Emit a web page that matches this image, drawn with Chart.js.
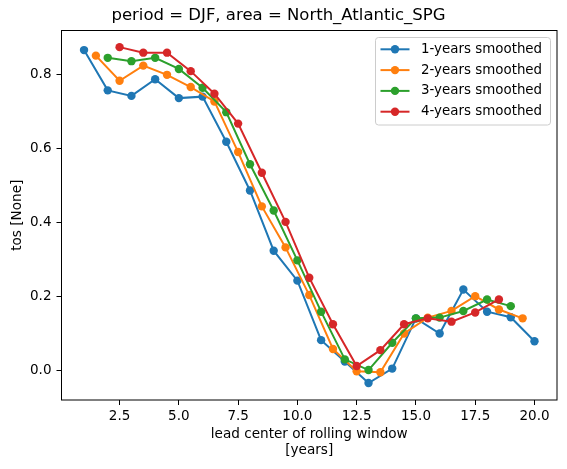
<!DOCTYPE html>
<html>
<head>
<meta charset="utf-8">
<script src="https://cdn.jsdelivr.net/npm/chart.js@4/dist/chart.umd.min.js"></script>
<style>
    html, body { margin: 0; padding: 0; background: #fff; }
    #chart { display: block; }
</style>
</head>
<body>
<canvas id="chart" width="567" height="469"></canvas>
<script>
// Data
const x1 = [1, 2, 3, 4, 5, 6, 7, 8, 9, 10, 11, 12, 13, 14, 15, 16, 17, 18, 19, 20];
const y1 = [0.866, 0.757, 0.742, 0.787, 0.736, 0.740, 0.618, 0.486, 0.323, 0.242,
            0.081, 0.023, -0.035, 0.004, 0.140, 0.099, 0.218, 0.158, 0.143, 0.078];

const x2 = [1.5, 2.5, 3.5, 4.5, 5.5, 6.5, 7.5, 8.5, 9.5, 10.5, 11.5, 12.5, 13.5, 14.5, 15.5, 16.5, 17.5, 18.5, 19.5];
const y2 = [0.851, 0.783, 0.824, 0.799, 0.766, 0.727, 0.590, 0.443, 0.332, 0.203,
            0.057, -0.003, -0.006, 0.099, 0.142, 0.160, 0.200, 0.164, 0.140];

const x3 = [2, 3, 4, 5, 6, 7, 8, 9, 10, 11, 12, 13, 14, 15, 16, 17, 18, 19];
const y3 = [0.845, 0.836, 0.845, 0.815, 0.764, 0.698, 0.557, 0.432, 0.297, 0.158,
            0.029, 0.000, 0.074, 0.140, 0.142, 0.160, 0.191, 0.173];

const x4 = [2.5, 3.5, 4.5, 5.5, 6.5, 7.5, 8.5, 9.5, 10.5, 11.5, 12.5, 13.5, 14.5, 15.5, 16.5, 17.5, 18.5];
const y4 = [0.874, 0.859, 0.859, 0.809, 0.748, 0.667, 0.534, 0.401, 0.250, 0.124,
            0.011, 0.054, 0.124, 0.140, 0.131, 0.156, 0.191];

const seriesLabels = ['1-years smoothed', '2-years smoothed', '3-years smoothed', '4-years smoothed'];
const colors = ['#1f77b4', '#ff7f0e', '#2ca02c', '#d62728'];

const xTicks = [2.5, 5.0, 7.5, 10.0, 12.5, 15.0, 17.5, 20.0];
const yTicks = [0.0, 0.2, 0.4, 0.6, 0.8];

const FONT = 'DejaVu Sans';

const toPoints = (xs, ys) => xs.map((x, i) => ({ x: x, y: ys[i] }));
const allX = [x1, x2, x3, x4];
const allY = [y1, y2, y3, y4];

const datasets = seriesLabels.map((label, i) => ({
    label: label,
    data: toPoints(allX[i], allY[i]),
    borderColor: colors[i],
    backgroundColor: colors[i],
    borderWidth: 2,
    pointRadius: 4.2,
    pointHoverRadius: 4.2,
    pointBorderWidth: 0,
    pointBackgroundColor: colors[i],
    tension: 0,
    order: 3 - i // later series drawn on top, like matplotlib
}));

// axes frame (all four spines)
const frame = {
    id: 'frame',
    afterDatasetsDraw: (chart) => {
        const ctx = chart.ctx;
        const a = chart.chartArea;
        ctx.save();
        ctx.strokeStyle = '#000';
        ctx.lineWidth = 1;
        ctx.strokeRect(a.left, a.top, a.right - a.left, a.bottom - a.top);
        ctx.restore();
    }
};

// matplotlib style legend: line + marker, framed box top-right
const mplLegend = {
    id: 'mplLegend',
    afterDraw: (chart) => {
        const ctx = chart.ctx;
        const a = chart.chartArea;
        const boxW = 175, boxH = 87.5;
        const bx = a.right - 6.5 - boxW, by = a.top + 7;
        ctx.save();
        ctx.beginPath();
        ctx.roundRect(bx, by, boxW, boxH, 3);
        ctx.fillStyle = 'rgba(255,255,255,0.8)';
        ctx.fill();
        ctx.strokeStyle = '#cccccc';
        ctx.lineWidth = 1;
        ctx.stroke();
        ctx.font = '13.4px "' + FONT + '"';
        ctx.textBaseline = 'middle';
        ctx.textAlign = 'left';
        chart.data.datasets.forEach((ds, i) => {
            const cy = by + 11.8 + i * 20.8;
            ctx.strokeStyle = ds.borderColor;
            ctx.lineWidth = 2;
            ctx.beginPath();
            ctx.moveTo(bx + 5, cy);
            ctx.lineTo(bx + 34, cy);
            ctx.stroke();
            ctx.fillStyle = ds.borderColor;
            ctx.beginPath();
            ctx.arc(bx + 19.5, cy, 4.2, 0, Math.PI * 2);
            ctx.fill();
            ctx.fillStyle = '#000';
            ctx.fillText(ds.label, bx + 45.5, cy);
        });
        ctx.restore();
    }
};

const tickFont = { family: FONT, size: 13.5 };

new Chart(document.querySelector('#chart'), {
    type: 'line',
    data: { datasets: datasets },
    options: {
        responsive: false,
        animation: false,
        events: [],
        layout: { padding: { left: 0, right: 10, top: 0, bottom: 0 } },
        scales: {
            x: {
                type: 'linear',
                min: 0.05,
                max: 20.95,
                afterBuildTicks: (s) => { s.ticks = xTicks.map(v => ({ value: v })); },
                afterFit: (s) => { s.height = 69; },
                ticks: {
                    callback: (v) => Number(v).toFixed(1),
                    font: tickFont,
                    color: '#000',
                    padding: 3,
                    maxRotation: 0,
                    autoSkip: false
                },
                grid: {
                    drawOnChartArea: false,
                    drawTicks: true,
                    tickLength: 5,
                    color: '#000',
                    tickColor: '#000',
                    lineWidth: 1
                },
                border: { display: false },
                title: {
                    display: true,
                    text: ['lead center of rolling window', '[years]'],
                    font: { family: FONT, size: 13.6, lineHeight: 1.2 },
                    color: '#000',
                    padding: { top: 4, bottom: 10 }
                }
            },
            y: {
                type: 'linear',
                min: -0.081,
                max: 0.919,
                afterBuildTicks: (s) => { s.ticks = yTicks.map(v => ({ value: v })); },
                afterFit: (s) => { s.width = 61.5; },
                ticks: {
                    callback: (v) => Number(v).toFixed(1),
                    font: tickFont,
                    color: '#000',
                    padding: 5
                },
                grid: {
                    drawOnChartArea: false,
                    drawTicks: true,
                    tickLength: 5,
                    color: '#000',
                    tickColor: '#000',
                    lineWidth: 1
                },
                border: { display: false },
                title: {
                    display: true,
                    text: 'tos [None]',
                    font: { family: FONT, size: 13.6, lineHeight: 1.2 },
                    color: '#000',
                    padding: { top: 9.5, bottom: 0 }
                }
            }
        },
        plugins: {
            legend: { display: false },
            tooltip: { enabled: false },
            title: {
                display: true,
                text: 'period = DJF, area = North_Atlantic_SPG',
                font: { family: FONT, size: 16.5, weight: 'normal', lineHeight: 1.2 },
                color: '#000',
                padding: { top: 6, bottom: 4.7 }
            }
        }
    },
    plugins: [frame, mplLegend]
});
</script>
</body>
</html>
